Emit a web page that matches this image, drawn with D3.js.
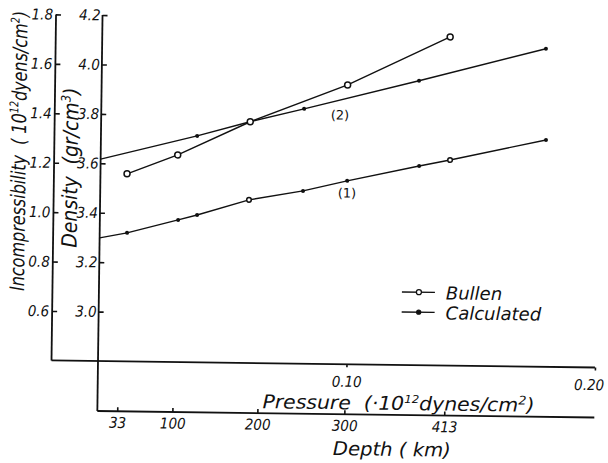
<!DOCTYPE html>
<html>
<head>
<meta charset="utf-8">
<script src="https://cdn.jsdelivr.net/npm/d3@7"></script>
<style>
  body { margin: 0; background: #fff; }
  text { fill: #111; font-style: italic; }
  .tick line { stroke: #111; stroke-width: 1.6; }
</style>
</head>
<body>
<div id="chart"></div>
<script>
// Bullen's values (open circles), read on the incompressibility axis
const bullenPressure = [0.0107, 0.031, 0.060, 0.099, 0.140];
const bullenIncomp = [1.159, 1.238, 1.376, 1.530, 1.730];

// calculated curve (2), incompressibility axis
const calc2Pressure = [0, 0.0387, 0.0599, 0.0816, 0.1277, 0.1786];
const calc2Incomp = [1.217, 1.316, 1.376, 1.431, 1.551, 1.687];

// calculated curve (1), density axis
const calc1Pressure = [0, 0.011, 0.0315, 0.0391, 0.0599, 0.0816, 0.0993, 0.1282, 0.1406, 0.1791];
const calc1Density = [3.298, 3.320, 3.375, 3.396, 3.460, 3.499, 3.542, 3.606, 3.632, 3.718];

// Bullen's densities lying on curve (1)
const bullenDenPressure = [0.0599, 0.1406];
const bullenDensity = [3.460, 3.632];

// axis ticks
const incompTicks = [0.6, 0.8, 1.0, 1.2, 1.4, 1.6, 1.8];
const densityTicks = [3.0, 3.2, 3.4, 3.6, 3.8, 4.0, 4.2];
const pressureTicks = [0.10, 0.20];
const depthLabels = ["33", "100", "200", "300", "413"];
const depthTickPressure = [0.008, 0.0302, 0.0644, 0.0994, 0.1396];

// curve labels
const curveLabels = ["(1)", "(2)"];
const curveLabelPressure = [0.0993, 0.0961];
const curveLabelValue = [3.493, 1.408]; // (1) on density axis, (2) on incompressibility axis

const narrow = "'DejaVu Sans Condensed', 'DejaVu Sans', sans-serif";
const wide = "'DejaVu Sans', 'Liberation Sans', sans-serif";

const width = 608, height = 463;
const tilt = 0.75; // the scan is slightly rotated

const x = d3.scaleLinear().domain([0, 0.20]).range([98, 595]);
const yDen = d3.scaleLinear().domain([2.8, 4.2]).range([361, 15]);
const yInc = d3.scaleLinear().domain([0.4, 1.8]).range([361, 15]);
const incAxisX = 51.5;
const depthY = 411;

const svg = d3.select("#chart").append("svg")
  .attr("width", width)
  .attr("height", height);

const g = svg.append("g")
  .attr("transform", `rotate(${tilt}, ${x(0)}, ${yDen(2.8)})`);

// axis lines
const axisLine = (x1, y1, x2, y2) =>
  g.append("line")
    .attr("x1", x1).attr("y1", y1).attr("x2", x2).attr("y2", y2)
    .attr("stroke", "#111").attr("stroke-width", 1.8);

axisLine(incAxisX, yInc(1.8), incAxisX, yInc(0.4));
axisLine(x(0), yDen(4.2), x(0), depthY);
axisLine(incAxisX, yDen(2.8), x(0.20), yDen(2.8));
axisLine(x(0), depthY, x(0.20), depthY);

// incompressibility axis
const incAxis = g.append("g")
  .attr("transform", `translate(${incAxisX},0)`)
  .call(d3.axisLeft(yInc).tickValues(incompTicks).tickSize(-5).tickSizeOuter(0)
    .tickPadding(3).tickFormat(d3.format(".1f")));
incAxis.select(".domain").remove();

// density axis
const denAxis = g.append("g")
  .attr("transform", `translate(${x(0)},0)`)
  .call(d3.axisLeft(yDen).tickValues(densityTicks).tickSize(-5).tickSizeOuter(0)
    .tickPadding(2).tickFormat(d3.format(".1f")));
denAxis.select(".domain").remove();

// pressure axis
const presAxis = g.append("g")
  .attr("transform", `translate(0,${yDen(2.8)})`)
  .call(d3.axisBottom(x).tickValues(pressureTicks).tickSize(3).tickSizeOuter(0)
    .tickPadding(9).tickFormat(d3.format(".2f")));
presAxis.select(".domain").remove();
// last label sits against the right edge, as in the scan
presAxis.selectAll(".tick text")
  .filter((d) => d === 0.20)
  .attr("text-anchor", "end")
  .attr("x", 9);

// depth axis
const depthAxis = g.append("g")
  .attr("transform", `translate(0,${depthY})`)
  .call(d3.axisBottom(x).tickValues(depthTickPressure).tickSize(-4).tickSizeOuter(0)
    .tickPadding(6).tickFormat((d, i) => depthLabels[i]));
depthAxis.select(".domain").remove();

g.selectAll(".tick text")
  .attr("font-family", narrow)
  .attr("font-size", 15)
  .attr("fill", "#111");

// axis titles
const incTitle = g.append("text")
  .attr("transform", "translate(23,152) rotate(-90)")
  .attr("text-anchor", "middle")
  .attr("font-family", wide).attr("font-size", 20)
  .attr("textLength", 280)
  .attr("lengthAdjust", "spacingAndGlyphs");
incTitle.append("tspan").text("Incompressibility\u00a0\u00a0( 10");
incTitle.append("tspan").attr("dy", -8).attr("font-size", 12).text("12");
incTitle.append("tspan").attr("dy", 8).text("dyens/cm");
incTitle.append("tspan").attr("dy", -8).attr("font-size", 12).text("2");
incTitle.append("tspan").attr("dy", 8).text(")");

const denTitle = g.append("text")
  .attr("transform", "translate(75,168) rotate(-90)")
  .attr("text-anchor", "middle")
  .attr("font-family", wide).attr("font-size", 21)
  .attr("textLength", 160)
  .attr("lengthAdjust", "spacingAndGlyphs");
denTitle.append("tspan").text("Density\u00a0\u00a0(gr/cm");
denTitle.append("tspan").attr("dy", -8).attr("font-size", 13).text("3");
denTitle.append("tspan").attr("dy", 8).text(")");

const presTitle = g.append("text")
  .attr("x", 399).attr("y", 406)
  .attr("text-anchor", "middle")
  .attr("font-family", wide).attr("font-size", 19)
  .attr("textLength", 272)
  .attr("lengthAdjust", "spacingAndGlyphs");
presTitle.append("tspan").text("Pressure\u00a0\u00a0(\u00b710");
presTitle.append("tspan").attr("dy", -7).attr("font-size", 11).text("12");
presTitle.append("tspan").attr("dy", 7).text("dynes/cm");
presTitle.append("tspan").attr("dy", -7).attr("font-size", 12).text("2");
presTitle.append("tspan").attr("dy", 7).text(")");

g.append("text")
  .attr("x", 393).attr("y", 452)
  .attr("text-anchor", "middle")
  .attr("font-family", wide).attr("font-size", 19)
  .attr("textLength", 118)
  .attr("lengthAdjust", "spacingAndGlyphs")
  .text("Depth\u00a0( km)");

// curves
const line = d3.line().x((d) => x(d[0])).y((d) => d[1]);

const drawCurve = (ps, ys) =>
  g.append("path")
    .datum(ps.map((p, i) => [p, ys[i]]))
    .attr("fill", "none")
    .attr("stroke", "#111")
    .attr("stroke-width", 1.4)
    .attr("d", line);

drawCurve(calc1Pressure, calc1Density.map((v) => yDen(v)));
drawCurve(calc2Pressure, calc2Incomp.map((v) => yInc(v)));
drawCurve(bullenPressure, bullenIncomp.map((v) => yInc(v)));

// calculated dots (skip the line start on the axis)
const dots = (ps, ys) =>
  g.append("g").selectAll("circle")
    .data(ps.map((p, i) => [p, ys[i]]).filter((d) => d[0] > 0))
    .enter().append("circle")
    .attr("cx", (d) => x(d[0]))
    .attr("cy", (d) => d[1])
    .attr("r", 2)
    .attr("fill", "#111");

dots(calc1Pressure, calc1Density.map((v) => yDen(v)));
dots(calc2Pressure, calc2Incomp.map((v) => yInc(v)));

// open circles
const rings = (ps, ys, r) =>
  g.append("g").selectAll("circle")
    .data(ps.map((p, i) => [p, ys[i]]))
    .enter().append("circle")
    .attr("cx", (d) => x(d[0]))
    .attr("cy", (d) => d[1])
    .attr("r", r)
    .attr("fill", "#fff")
    .attr("stroke", "#111")
    .attr("stroke-width", 1.5);

rings(bullenPressure, bullenIncomp.map((v) => yInc(v)), 3);
rings(bullenDenPressure, bullenDensity.map((v) => yDen(v)), 2.3);

// curve labels
g.selectAll(".curve-label")
  .data(curveLabels)
  .enter().append("text")
  .attr("class", "curve-label")
  .attr("x", (d, i) => x(curveLabelPressure[i]))
  .attr("y", (d, i) => (i === 0 ? yDen(curveLabelValue[i]) : yInc(curveLabelValue[i])))
  .attr("dy", "0.35em")
  .attr("text-anchor", "middle")
  .attr("font-family", wide)
  .attr("font-size", 13)
  .style("font-style", "normal")
  .text((d) => d);

// legend
const legend = g.append("g").attr("transform", "translate(401,288)");
["Bullen", "Calculated"].forEach((name, i) => {
  const row = legend.append("g").attr("transform", `translate(0,${i * 20})`);
  row.append("line")
    .attr("x1", 0).attr("x2", 33)
    .attr("stroke", "#111").attr("stroke-width", 1.4);
  row.append("circle")
    .attr("cx", 17).attr("r", i === 0 ? 2.5 : 2)
    .attr("fill", i === 0 ? "#fff" : "#111")
    .attr("stroke", "#111").attr("stroke-width", 1.3);
  row.append("text")
    .attr("x", 44).attr("dy", "0.38em")
    .attr("font-family", wide).attr("font-size", 18)
    .text(name);
});
</script>
</body>
</html>
